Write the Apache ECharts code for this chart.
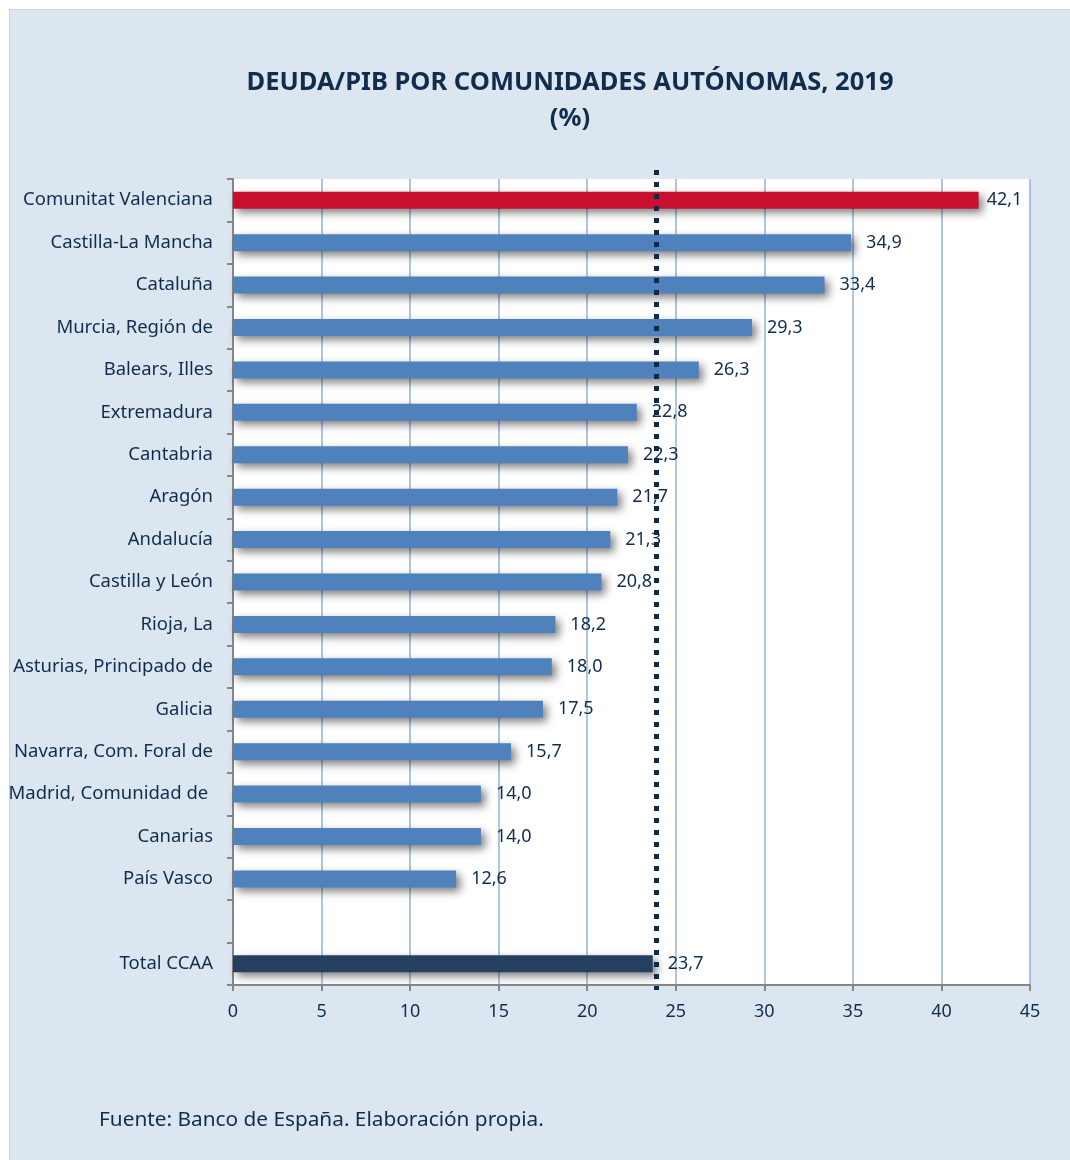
<!DOCTYPE html>
<html lang="es">
<head>
    <meta charset="UTF-8">
    <script src="https://cdn.jsdelivr.net/npm/echarts@6.0.0/dist/echarts.min.js"></script>
    <title>Deuda/PIB</title>
    <style>
        body { margin: 0; background: #ffffff; }
        #chart { position: absolute; left: 9px; top: 9px; width: 1061px; height: 1151px;
                 border-top: 1px solid #d0d4da; border-left: 1px solid #d0d4da; box-sizing: border-box; }
    </style>
</head>
<body>
    <div id="chart"></div>
    <script>
        // datos
        var regions = ['Comunitat Valenciana', 'Castilla-La Mancha', 'Cataluña', 'Murcia, Región de',
            'Balears, Illes', 'Extremadura', 'Cantabria', 'Aragón', 'Andalucía', 'Castilla y León',
            'Rioja, La', 'Asturias, Principado de', 'Galicia', 'Navarra, Com. Foral de',
            'Madrid, Comunidad de ', 'Canarias', 'País Vasco'];
        var values = [42.1, 34.9, 33.4, 29.3, 26.3, 22.8, 22.3, 21.7, 21.3, 20.8,
            18.2, 18.0, 17.5, 15.7, 14.0, 14.0, 12.6];
        var totalName = 'Total CCAA';
        var totalValue = 23.7;
        var avgLine = 23.9;
        var xTicks = [0, 5, 10, 15, 20, 25, 30, 35, 40, 45];

        var textColor = '#112d4e';
        var categories = regions.concat(['', totalName]);
        var seriesData = [];
        for (var i = 0; i < values.length; i++) {
            var item = {
                value: values[i],
                itemStyle: { color: i === 0 ? '#c8102e' : '#4f81bd' }
            };
            if (i === 0) item.label = { distance: 8 };
            seriesData.push(item);
        }
        seriesData.push({ value: '-', label: { show: false } });
        seriesData.push({ value: totalValue, itemStyle: { color: '#243f60' } });

        var chart = echarts.init(document.getElementById('chart'));
        var option = {
            backgroundColor: '#dce6f1',
            animation: false,
            textStyle: { fontFamily: 'Noto Sans', color: textColor },
            grid: { left: 223, right: 40, top: 169, bottom: 175, containLabel: false,
                    outerBoundsMode: 'none',
                    show: true, backgroundColor: '#ffffff', borderWidth: 0 },
            xAxis: {
                type: 'value',
                min: 0, max: 45, interval: 5,
                axisLine: { show: true, lineStyle: { color: '#868686', width: 2 } },
                axisTick: { show: true, length: 6, lineStyle: { color: '#868686', width: 2 } },
                axisLabel: { fontSize: 18, color: textColor, margin: 18,
                    formatter: function (v) { return xTicks.indexOf(v) >= 0 ? String(v) : ''; } },
                splitLine: { show: true, lineStyle: { color: '#95b3d7', width: 1.5 } }
            },
            yAxis: {
                type: 'category',
                inverse: true,
                data: categories,
                axisLine: { show: true, lineStyle: { color: '#868686', width: 2 } },
                axisTick: { show: true, length: 6, alignWithLabel: false, lineStyle: { color: '#868686', width: 2 } },
                axisLabel: { fontSize: 18.5, color: textColor, margin: 20 },
                splitLine: { show: false }
            },
            series: [{
                type: 'bar',
                barWidth: 17,
                data: seriesData,
                itemStyle: {
                    shadowColor: 'rgba(0,0,0,0.5)',
                    shadowBlur: 8,
                    shadowOffsetX: 4,
                    shadowOffsetY: 4
                },
                label: {
                    show: true,
                    position: 'right',
                    distance: 15,
                    fontSize: 18,
                    color: textColor,
                    formatter: function (p) { return p.value.toFixed(1).replace('.', ','); }
                },
                markLine: {
                    silent: true,
                    symbol: ['none', 'none'],
                    label: { show: false },
                    lineStyle: { color: '#0f2a47', width: 5, type: [5, 7] },
                    data: [[{ xAxis: avgLine, y: 160 }, { xAxis: avgLine, y: 980 }]]
                }
            }],
            graphic: [{
                type: 'text',
                x: 560,
                y: 55,
                style: { text: 'DEUDA/PIB POR COMUNIDADES AUTÓNOMAS, 2019\n(%)', fontSize: 25.5,
                         fontWeight: 'bold', lineHeight: 36, align: 'center',
                         fill: textColor, fontFamily: 'Noto Sans' }
            }, {
                type: 'text',
                x: 89,
                y: 1100,
                style: { text: 'Fuente: Banco de España. Elaboración propia.', fontSize: 20.8,
                         fill: textColor, fontFamily: 'Noto Sans' }
            }]
        };
        chart.setOption(option);
    </script>
</body>
</html>
